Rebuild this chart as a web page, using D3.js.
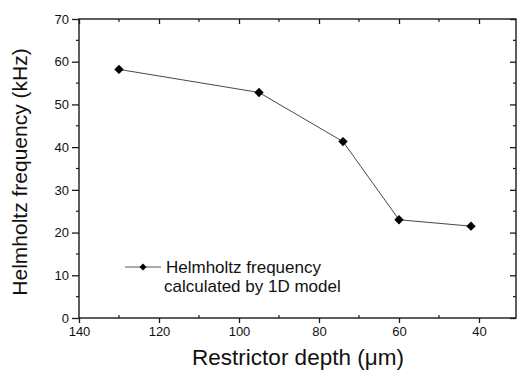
<!DOCTYPE html>
<html><head><meta charset="utf-8">
<script src="https://cdn.jsdelivr.net/npm/d3@7"></script>
<style>body{margin:0;background:#fff}svg{display:block}text{font-family:Arial,"Liberation Sans",sans-serif;fill:#111}</style>
</head><body><svg id="c" width="517" height="380"></svg>
<script>
const depth = [130, 95, 74, 60, 42];
const freq = [58.2, 52.8, 41.3, 23.0, 21.5];
const xTicks = [140, 120, 100, 80, 60, 40];
const yTicks = [0, 10, 20, 30, 40, 50, 60, 70];
const xMinor = [130, 110, 90, 70, 50];
const yMinor = [5, 15, 25, 35, 45, 55, 65];
const seriesName = ["Helmholtz frequency", "calculated by 1D model"];
const xTitle = "Restrictor depth (\u03bcm)";
const yTitle = "Helmholtz frequency (kHz)";

const svg = d3.select("#c");
const L = 79, R = 516, T = 19, B = 318;
const x = d3.scaleLinear().domain([140, 30]).range([L, L + 440]);
const y = d3.scaleLinear().domain([0, 70]).range([B, T]);
const ink = "#1a1a1a";

// frame
svg.append("rect").attr("x", L).attr("y", T).attr("width", R - L).attr("height", B - T)
  .attr("fill", "none").attr("stroke", ink).attr("stroke-width", 1.4);

// bottom axis
const gb = svg.append("g").attr("transform", `translate(0,${B})`)
  .call(d3.axisBottom(x).tickValues(xTicks).tickSize(5).tickPadding(4).tickFormat(d3.format("d")));
gb.select(".domain").remove();
gb.selectAll("line").attr("stroke", ink).attr("stroke-width", 1.3);
gb.selectAll("text").style("font-size", "13px").attr("fill", ink);
svg.append("g").selectAll("line").data(xMinor).join("line")
  .attr("x1", d => x(d)).attr("x2", d => x(d)).attr("y1", B).attr("y2", B - 3)
  .attr("stroke", ink).attr("stroke-width", 1.2);

// top axis ticks (inward)
const gt = svg.append("g").attr("transform", `translate(0,${T})`)
  .call(d3.axisTop(x).tickValues(xTicks).tickSize(-5).tickFormat(""));
gt.select(".domain").remove();
gt.selectAll("line").attr("stroke", ink).attr("stroke-width", 1.3);
svg.append("g").selectAll("line").data(xMinor).join("line")
  .attr("x1", d => x(d)).attr("x2", d => x(d)).attr("y1", T).attr("y2", T + 3)
  .attr("stroke", ink).attr("stroke-width", 1.2);

// left axis
const gl = svg.append("g").attr("transform", `translate(${L},0)`)
  .call(d3.axisLeft(y).tickValues(yTicks).tickSize(7).tickPadding(3).tickFormat(d3.format("d")));
gl.select(".domain").remove();
gl.selectAll("line").attr("stroke", ink).attr("stroke-width", 1.3);
gl.selectAll("text").style("font-size", "13px").attr("fill", ink);
svg.append("g").selectAll("line").data(yMinor).join("line")
  .attr("x1", L).attr("x2", L - 3).attr("y1", d => y(d)).attr("y2", d => y(d))
  .attr("stroke", ink).attr("stroke-width", 1.2);

// right axis ticks (inward)
const gr = svg.append("g").attr("transform", `translate(${R},0)`)
  .call(d3.axisRight(y).tickValues(yTicks).tickSize(-6).tickFormat(""));
gr.select(".domain").remove();
gr.selectAll("line").attr("stroke", ink).attr("stroke-width", 1.3);
svg.append("g").selectAll("line").data(yMinor).join("line")
  .attr("x1", R).attr("x2", R - 3).attr("y1", d => y(d)).attr("y2", d => y(d))
  .attr("stroke", ink).attr("stroke-width", 1.2);

// series
const pts = depth.map((d, i) => [d, freq[i]]);
svg.append("path").datum(pts)
  .attr("d", d3.line().x(d => x(d[0])).y(d => y(d[1])))
  .attr("fill", "none").attr("stroke", "#333").attr("stroke-width", 0.9);
const dia = d3.symbol().type(d3.symbolSquare).size(44);
svg.append("g").selectAll("path").data(pts).join("path")
  .attr("d", dia)
  .attr("transform", d => `translate(${x(d[0])},${y(d[1])}) rotate(45)`)
  .attr("fill", "#000");

// legend
const ly = 267;
svg.append("line").attr("x1", 125).attr("x2", 161).attr("y1", ly).attr("y2", ly)
  .attr("stroke", "#444").attr("stroke-width", 0.9);
svg.append("path").attr("d", d3.symbol().type(d3.symbolSquare).size(24))
  .attr("transform", `translate(143,${ly}) rotate(45)`).attr("fill", "#000");
svg.append("text").attr("x", 166).attr("y", 273).style("font-size", "17px").text(seriesName[0]);
svg.append("text").attr("x", 164).attr("y", 292).style("font-size", "17px").text(seriesName[1]);

// titles
svg.append("text").attr("x", 298).attr("y", 365).attr("text-anchor", "middle")
  .style("font-size", "22.5px").text(xTitle);
svg.append("text").attr("transform", "translate(27,172) rotate(-90)").attr("text-anchor", "middle")
  .style("font-size", "21px").text(yTitle);
</script></body></html>
